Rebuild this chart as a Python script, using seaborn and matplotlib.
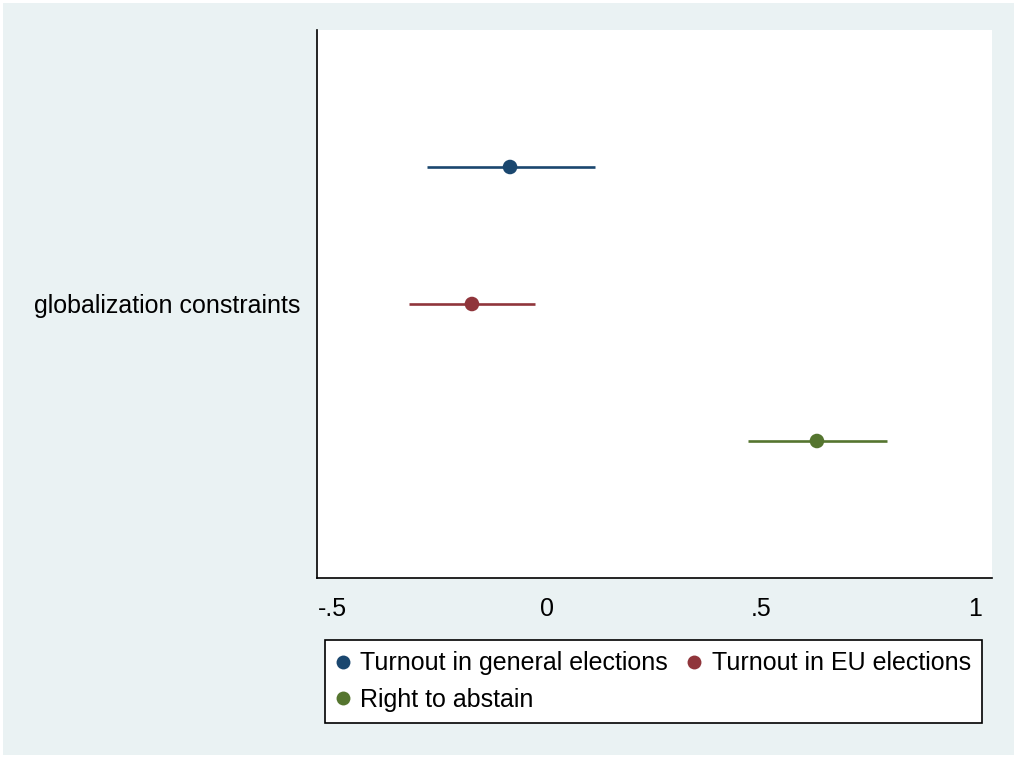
import matplotlib
matplotlib.use("Agg")
import matplotlib.pyplot as plt
from matplotlib.lines import Line2D
from matplotlib.patches import Rectangle
import seaborn as sns
import pandas as pd

# ---- data ----
variable = "globalization constraints"
series = ["Turnout in general elections", "Turnout in EU elections", "Right to abstain"]
estimates = [-0.086, -0.175, 0.631]
ci_low = [-0.280, -0.322, 0.470]
ci_high = [0.112, -0.028, 0.794]
xticks = [-0.5, 0, 0.5, 1]
xticklabels = ["-.5", "0", ".5", "1"]
colors = ["#1a476f", "#90353b", "#55752f"]

sns.set_theme(style="white")
plt.rcParams["font.family"] = ["Liberation Sans", "DejaVu Sans"]
plt.rcParams["text.color"] = "black"

df = pd.DataFrame({
    "series": series,
    "b": estimates,
    "lo": ci_low,
    "hi": ci_high,
})
df["y"] = [i - 1 for i in range(len(series))]

bg = "#eaf2f3"
fig = plt.figure(figsize=(10.17, 7.58), dpi=100, facecolor="white")
fig.patches.append(Rectangle((3 / 1017, 3 / 758), 1 - 6 / 1017, 1 - 6 / 758,
                             transform=fig.transFigure, facecolor=bg,
                             edgecolor="none", zorder=-10))

ax = fig.add_axes([317 / 1017, 1 - 578 / 758, (992 - 317) / 1017, (578 - 30) / 758])
ax.set_facecolor("white")

for i, row in df.iterrows():
    ax.hlines(row["y"], row["lo"], row["hi"], color=colors[i], lw=1.9, zorder=2)

sns.scatterplot(data=df, x="b", y="y", hue="series", palette=colors,
                s=110, edgecolor="none", ax=ax, zorder=3, legend=False)

ax.set_xlim(-0.537, 1.040)
ax.set_ylim(2, -2)
ax.set_xticks(xticks)
ax.set_xticklabels(xticklabels)
ax.set_yticks([0])
ax.set_yticklabels([variable])
ax.set_xlabel("")
ax.set_ylabel("")
for s in ["top", "right"]:
    ax.spines[s].set_visible(False)
for s in ["left", "bottom"]:
    ax.spines[s].set_color("black")
    ax.spines[s].set_linewidth(1.2)
ax.tick_params(axis="both", which="both", direction="out", length=7, width=1.1,
               color="black", labelsize=18, labelcolor="black", pad=5)
ax.tick_params(axis="x", pad=7)

handles = [Line2D([0], [0], marker="o", color="none", markerfacecolor=c,
                  markeredgecolor="none", markersize=10) for c in colors]
# matplotlib fills legend column-wise; reorder so entries read row-wise
order = [0, 2, 1]
leg = fig.legend([handles[k] for k in order], [series[k] for k in order], ncol=2,
                 loc="upper left", bbox_to_anchor=(325 / 1017, 1 - 640 / 758),
                 frameon=True, fancybox=False, fontsize=18, framealpha=1,
                 handlelength=0.5, handletextpad=0.45, columnspacing=0.8,
                 borderpad=0.45, labelspacing=0.5, borderaxespad=0)
for t in leg.get_texts():
    t.set_color("black")
leg.get_frame().set_edgecolor("black")
leg.get_frame().set_linewidth(1.2)
leg.get_frame().set_facecolor("white")

fig.savefig("out.png", dpi=100, facecolor=fig.get_facecolor())
